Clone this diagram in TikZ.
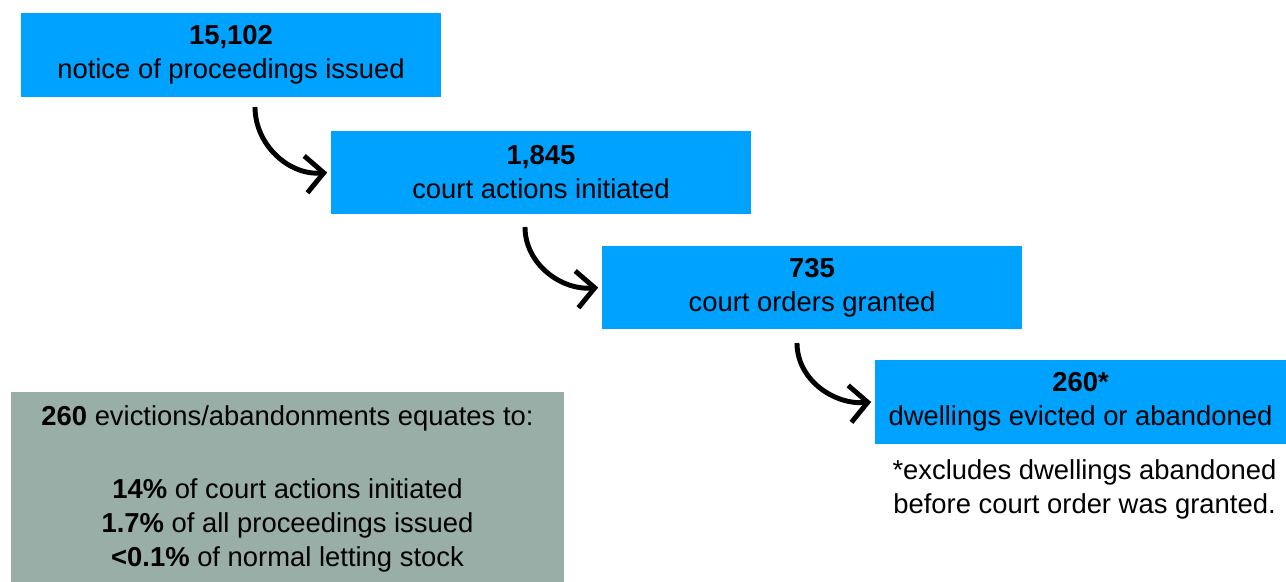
\documentclass[tikz,border=0pt]{standalone}
\usepackage{fontspec}
\setmainfont{Liberation Sans}
\usepackage{tikz}
\usetikzlibrary{positioning,arrows.meta}
\definecolor{stageBlue}{HTML}{00A2FF}
\definecolor{sageGrey}{HTML}{98AEA7}
\definecolor{inkBlack}{HTML}{000000}
\tikzset{
  stageBox/.style={fill=stageBlue,draw=none,minimum width=8.4cm,minimum height=1.68cm,
    align=center,inner sep=0pt,text=inkBlack},
  flowArrow/.style={line width=2.8pt,-{Straight Barb[length=0.36cm,width=0.74cm]}},
}
\begin{document}
\begin{tikzpicture}[x=0.02cm,y=-0.02cm,font=\fontsize{15.6}{19.4}\selectfont]
\clip (0,0) rectangle (1286,582);
% stages
\node[stageBox] (b1) at (231,55) {\textbf{15,102}\\notice of proceedings issued};
\node[stageBox] (b2) at (541,172.5) {\textbf{1,845}\\court actions initiated};
\node[stageBox] (b3) at (812,287.5) {\textbf{735}\\court orders granted};
\node[stageBox,minimum width=8.22cm] (b4) at (1080.5,402) {\textbf{260*}\\dwellings evicted or abandoned};
\node[below=0.3cm of b4,align=center,inner sep=0pt,xshift=0.08cm] (foot)
  {*excludes dwellings abandoned\\before court order was granted.};
% summary
\node[fill=sageGrey,minimum width=11.06cm,minimum height=3.9cm,inner sep=0pt,align=center] (sum) at (287.5,489)
  {\textbf{260} evictions/abandonments equates to:\\[0.76cm]
   \textbf{14\%} of court actions initiated\\
   \textbf{1.7\%} of all proceedings issued\\
   \textbf{<0.1\%} of normal letting stock};
% arrows
\coordinate (s1) at (255,107);
\coordinate (s2) at (525,227);
\coordinate (s3) at (797,343);
\draw[flowArrow] (s1) to[out=-90,in=185] ([xshift=-2pt]b2.west);
\draw[flowArrow] (s2) to[out=-90,in=185] ([xshift=-2pt]b3.west);
\draw[flowArrow] (s3) to[out=-90,in=185] ([xshift=-2pt]b4.west);
\end{tikzpicture}
\end{document}
